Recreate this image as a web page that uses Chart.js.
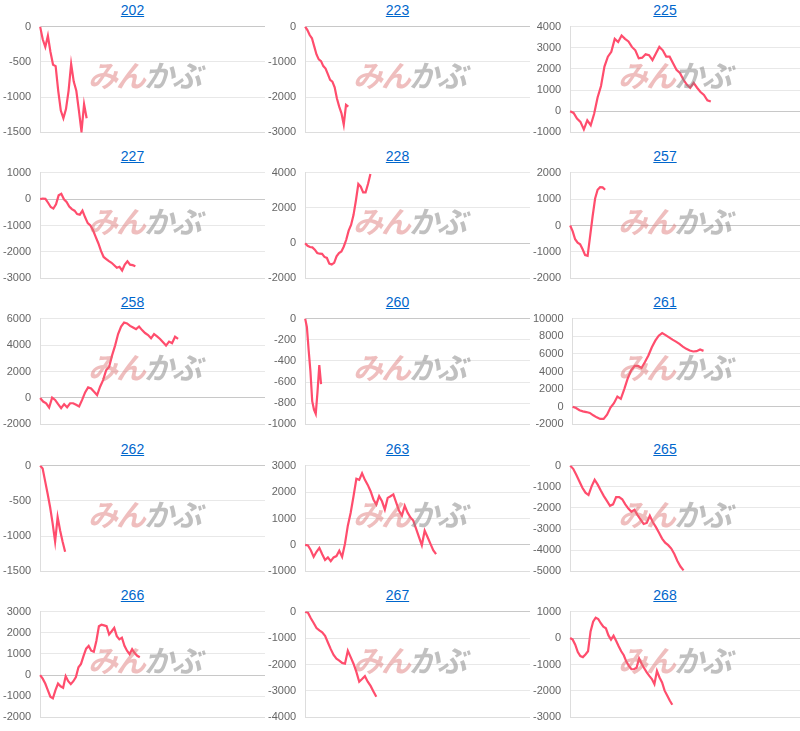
<!DOCTYPE html>
<html>
<head>
<meta charset="utf-8">
<script src="https://cdn.jsdelivr.net/npm/chart.js@4"></script>
<style>
  body { margin: 0; background: #fff; font-family: "Liberation Sans", Arial, sans-serif; }
  .grid { display: grid; grid-template-columns: 265px 265px 270px; grid-auto-rows: 146.2px; width: 800px; }
  .cell { position: relative; }
  .cell a { position: absolute; top: 2px; left: 0; right: 0; text-align: center; color: #0066cc; font-size: 14px; text-decoration: underline; }
  .cell .box { position: absolute; top: 17px; left: 0; right: 0; height: 125px; }
  .mark { position: absolute; top: 52px; left: 88px; font: italic bold 30px "Noto Sans CJK JP", sans-serif; letter-spacing: -2px; pointer-events: none; }
  .mark .a { color: rgba(220, 110, 110, 0.45); }
  .mark .b { color: rgba(130, 130, 130, 0.5); }
</style>
</head>
<body>
<div class="grid" id="grid"></div>
<script>
const titles = ['202', '223', '225', '227', '228', '257', '258', '260', '261', '262', '263', '265', '266', '267', '268'];
const yMins = [-1500, -3000, -1000, -3000, -2000, -2000, -2000, -1000, -2000, -1500, -1000, -5000, -2000, -4000, -3000];
const yMaxs = [0, 0, 4000, 1000, 4000, 2000, 6000, 0, 10000, 0, 3000, 0, 3000, 0, 1000];
const ySteps = [500, 1000, 1000, 1000, 2000, 1000, 2000, 200, 2000, 500, 1000, 1000, 1000, 1000, 1000];
// number of x slots each chart has (data only fills the first part)
const slotCounts = [88, 100, 68, 86, 94, 93, 76, 128, 67, 91, 80, 76, 89, 80, 91];

const s202 = [0, -180, -290, -130, -360, -540, -560, -910, -1190, -1300, -1170, -910, -530, -780, -910, -1190, -1490, -1100, -1300];
const s223 = [0, -100, -240, -330, -560, -790, -930, -980, -1120, -1190, -1350, -1510, -1560, -1720, -2040, -2270, -2460, -2780, -2220, -2270];
const s225 = [0, -80, -350, -500, -860, -430, -660, -120, 650, 1190, 2110, 2580, 2810, 3420, 3270, 3580, 3420, 3300, 3040, 2880, 2500, 2530, 2690, 2650, 2420, 2730, 3040, 2880, 2580, 2580, 2270, 1960, 1810, 1500, 1260, 1110, 1340, 1110, 910, 770, 520, 460];
const s227 = [0, 20, 10, -140, -300, -360, -200, 140, 200, -10, -110, -280, -380, -440, -570, -590, -440, -690, -910, -1000, -1180, -1430, -1670, -1960, -2190, -2270, -2350, -2410, -2500, -2600, -2560, -2700, -2480, -2350, -2480, -2500, -2540];
const s228 = [0, -150, -220, -240, -370, -560, -600, -610, -780, -840, -1160, -1210, -1120, -750, -560, -470, -190, 190, 710, 1030, 1590, 2420, 3350, 3200, 2880, 2880, 3350, 3920];
const s257 = [0, -210, -520, -650, -710, -900, -1120, -1150, -400, 350, 1020, 1350, 1450, 1440, 1350];
const s258 = [0, -270, -400, -720, 20, -150, -470, -770, -470, -700, -400, -400, -520, -650, -150, 420, 800, 720, 470, 220, 850, 1350, 2090, 2340, 3220, 3960, 4830, 5400, 5700, 5630, 5450, 5330, 5200, 5400, 5130, 4910, 4760, 4510, 4830, 4660, 4460, 4210, 3960, 4260, 4140, 4630, 4460];
const s260 = [0, -80, -300, -500, -780, -860, -900, -690, -440, -620];
const s261 = [0, -150, -400, -520, -600, -700, -970, -1200, -1380, -1380, -900, -80, 410, 1160, 900, 2010, 3210, 4140, 4630, 4630, 4400, 5070, 5820, 6750, 7500, 8060, 8360, 8130, 7870, 7610, 7390, 7130, 6830, 6570, 6380, 6270, 6300, 6490, 6340];
const s262 = [0, -40, -220, -400, -590, -820, -1080, -730, -920, -1080, -1220];
const s263 = [0, -20, -200, -450, -260, -110, -350, -570, -470, -610, -470, -420, -220, -450, 50, 730, 1220, 1840, 2500, 2460, 2710, 2460, 2270, 2030, 1720, 1530, 1840, 1650, 1340, 1780, 1840, 1910, 1600, 1290, 1110, 1480, 1220, 1040, 920, 610, 300, -10, 540, 300, 50, -200, -350];
const s265 = [0, -150, -430, -740, -1050, -1280, -1390, -980, -670, -900, -1180, -1440, -1670, -1900, -1830, -1490, -1490, -1590, -1830, -2030, -2180, -2090, -2340, -2550, -2760, -2710, -2370, -2680, -2910, -3170, -3450, -3640, -3760, -3920, -4180, -4510, -4770, -4950];
const s266 = [0, -170, -400, -710, -1020, -1100, -710, -400, -530, -600, -50, -290, -430, -290, -90, 370, 530, 910, 1250, 1380, 1150, 1100, 1610, 2310, 2380, 2350, 2310, 1920, 2070, 2230, 1840, 1690, 1770, 1380, 1150, 990, 1220, 1040, 910, 840];
const s267 = [0, -40, -250, -430, -620, -710, -780, -920, -1170, -1420, -1640, -1780, -1850, -1940, -1970, -1480, -1720, -1970, -2280, -2650, -2550, -2440, -2650, -2810, -3020, -3220];
const s268 = [0, -60, -250, -530, -680, -720, -620, -500, 250, 620, 770, 720, 560, 430, 370, 100, -60, 90, -100, -310, -500, -650, -890, -1050, -1180, -1180, -1120, -770, -970, -1140, -1300, -1430, -1550, -1740, -1240, -1490, -1680, -1990, -2170, -2360, -2520];

const seriesList = [s202, s223, s225, s227, s228, s257, s258, s260, s261, s262, s263, s265, s266, s267, s268];

const grid = document.getElementById('grid');

titles.forEach((t, i) => {
  const cell = document.createElement('div');
  cell.className = 'cell';
  cell.innerHTML = `<a href="#">${t}</a><div class="box"><canvas></canvas></div>` +
    `<div class="mark"><span class="a">みん</span><span class="b">かぶ</span></div>`;
  grid.appendChild(cell);

  const labels = [];
  for (let k = 0; k < slotCounts[i]; k++) labels.push(String(k + 1));

  new Chart(cell.querySelector('canvas'), {
    type: 'line',
    data: {
      labels: labels,
      datasets: [{
        data: seriesList[i],
        borderColor: '#ff4d6d',
        borderWidth: 2.2,
        pointRadius: 0,
        tension: 0,
        fill: false,
      }],
    },
    options: {
      responsive: true,
      maintainAspectRatio: false,
      animation: false,
      layout: { padding: { left: 0, right: 0, top: 5, bottom: 0 } },
      plugins: { legend: { display: false }, tooltip: { enabled: false } },
      scales: {
        x: {
          ticks: { display: false },
          grid: { display: false },
          border: { display: true, color: '#ddd' },
        },
        y: {
          min: yMins[i],
          max: yMaxs[i],
          ticks: {
            stepSize: ySteps[i],
            color: '#666',
            font: { size: 11, family: 'Liberation Sans' },
            callback: v => String(v),
          },
          grid: {
            color: ctx => ctx.tick.value === 0 ? '#c8c8c8' : '#e8e8e8',
            drawTicks: true,
            tickLength: 6,
            tickColor: 'rgba(0,0,0,0)',
          },
          border: { display: true, color: '#ddd' },
        },
      },
    },
  });
});
</script>
</body>
</html>
